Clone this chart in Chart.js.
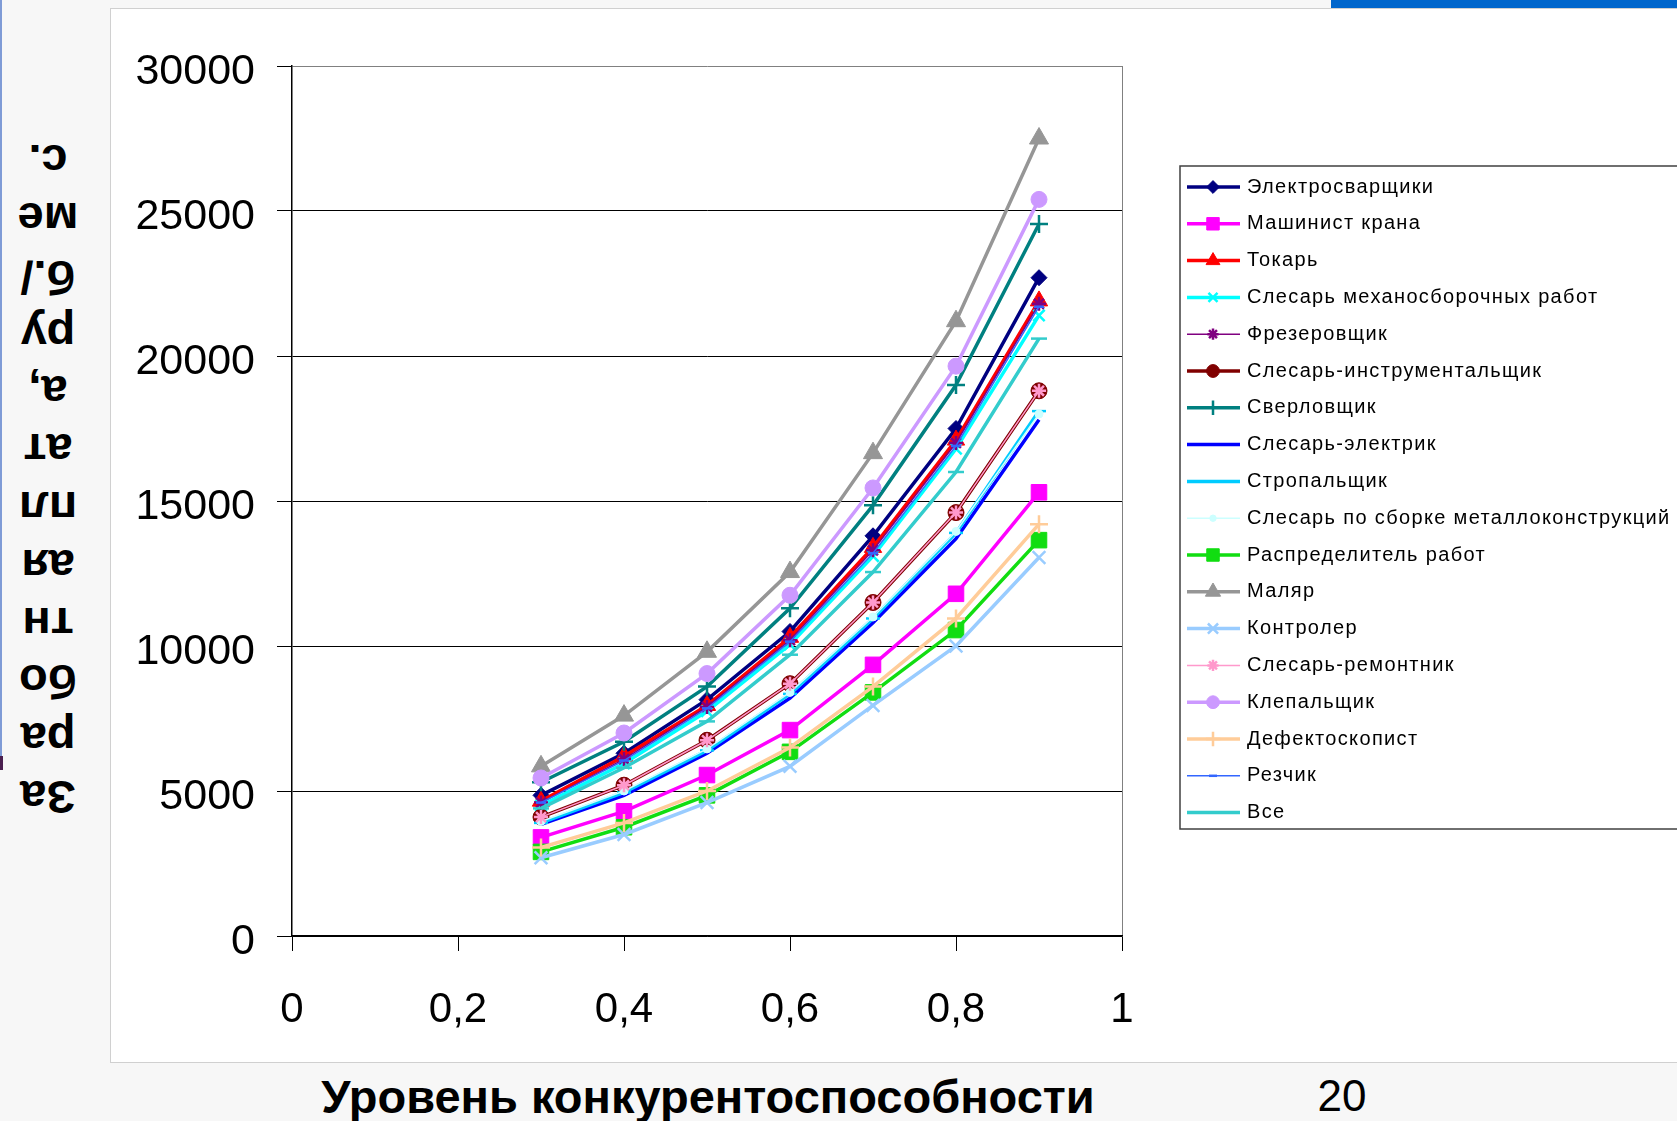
<!DOCTYPE html>
<html>
<head>
<meta charset="utf-8">
<script src="https://cdn.jsdelivr.net/npm/chart.js@4/dist/chart.umd.min.js"></script>
<style>
html, body { margin: 0; padding: 0; width: 1677px; height: 1121px; overflow: hidden; background: #f7f7f7; font-family: "Liberation Sans", Arial, sans-serif; }
#topbar { position: absolute; left: 1331px; top: 0; width: 346px; height: 8px; background: #0066cc; }
#leftline { position: absolute; left: 0; top: 0; width: 2px; height: 756px; background: #7f9bd6; }
#leftmark { position: absolute; left: 0; top: 756px; width: 3px; height: 14px; background: #4a1f4f; }
#box { position: absolute; left: 110px; top: 8px; width: 1600px; height: 1053px; background: #fff; border: 1px solid #d0d0d0; }
#chartWrap { position: absolute; left: 110px; top: 8px; width: 1567px; height: 1054px; }
#ytitle { position: absolute; left: 3px; top: 132px; width: 90px; text-align: center; font-weight: bold; font-size: 47px; line-height: 57.8px; transform: rotate(180deg); color: #000; }
#xtitle { position: absolute; left: 0; top: 1069px; width: 1416px; text-align: center; font-weight: bold; font-size: 47px; color: #000; }
#page { position: absolute; left: 1292px; top: 1071px; width: 100px; text-align: center; font-size: 44px; color: #000; }
</style>
</head>
<body>
<div id="topbar"></div>
<div id="leftline"></div>
<div id="leftmark"></div>
<div id="box"></div>
<div id="chartWrap"><canvas id="chart" width="1567" height="1054"></canvas></div>
<div id="ytitle">За<br>ра<br>бо<br>тн<br>ая<br>пл<br>ат<br>а,<br>ру<br>б./<br>ме<br>с.</div>
<div id="xtitle">Уровень конкурентоспособности</div>
<div id="page">20</div>

<script>
// competitiveness levels (x)
const levels = [0.3, 0.4, 0.5, 0.6, 0.7, 0.8, 0.9];

const seriesNames = [
    'Электросварщики', 'Машинист крана', 'Токарь', 'Слесарь механосборочных работ',
    'Фрезеровщик', 'Слесарь-инструментальщик', 'Сверловщик', 'Слесарь-электрик',
    'Стропальщик', 'Слесарь по сборке металлоконструкций', 'Распределитель работ', 'Маляр',
    'Контролер', 'Слесарь-ремонтник', 'Клепальщик', 'Дефектоскопист', 'Резчик', 'Все'
];

// salary, rub./month
const elektrosvarshchiki = [4850, 6300, 8150, 10500, 13800, 17500, 22700];
const mashinistKrana     = [3400, 4300, 5550, 7100, 9350, 11800, 15300];
const tokar              = [4650, 6200, 7950, 10300, 13400, 17100, 21900];
const slesarMekhsbor     = [4500, 5950, 7750, 10050, 13100, 16800, 21400];
const frezerovshchik     = [4600, 6100, 7900, 10200, 13300, 17000, 21800];
const slesarInstrum      = [4100, 5200, 6750, 8700, 11500, 14600, 18800];
const sverlovshchik      = [5300, 6700, 8600, 11300, 14850, 19000, 24550];
const slesarElektrik     = [3850, 4850, 6300, 8200, 10800, 13700, 17800];
const stropalshchik      = [3900, 4950, 6400, 8350, 10950, 13900, 18100];
const slesarSborka       = [3950, 5000, 6450, 8400, 11000, 13950, 18000];
const raspredelitel      = [2900, 3750, 4850, 6350, 8400, 10550, 13650];
const malyar             = [5850, 7600, 9800, 12550, 16650, 21200, 27500];
const kontroler          = [2700, 3500, 4600, 5850, 7950, 10000, 13050];
const slesarRemont       = [4100, 5200, 6750, 8700, 11500, 14600, 18800];
const klepalshchik       = [5450, 7000, 9050, 11750, 15450, 19650, 25400];
const defektoskopist     = [3050, 3900, 5000, 6500, 8600, 10950, 14200];
const rezchik            = [4600, 6050, 7850, 10150, 13200, 16900, 21700];
const vse                = [4400, 5800, 7400, 9700, 12550, 16000, 20600];

const seriesValues = [
    elektrosvarshchiki, mashinistKrana, tokar, slesarMekhsbor, frezerovshchik, slesarInstrum,
    sverlovshchik, slesarElektrik, stropalshchik, slesarSborka, raspredelitel, malyar,
    kontroler, slesarRemont, klepalshchik, defektoskopist, rezchik, vse
];

// [color, line width, marker, marker radius]
const seriesStyles = [
    ['#000080', 3.5, 'rectRot', 8],
    ['#ff00ff', 3.5, 'rect', 11],
    ['#ff0000', 3.5, 'triangle', 10],
    ['#00ffff', 3.5, 'crossRot', 8],
    ['#800080', 1.5, 'star', 7],
    ['#800000', 3.5, 'circle', 8],
    ['#008080', 3.5, 'cross', 9],
    ['#0000ff', 3.5, false, 0],
    ['#00ccff', 3.5, 'line', 7],
    ['#ccffff', 1.5, 'circle', 4],
    ['#11dd11', 3.5, 'rect', 11],
    ['#969696', 3.5, 'triangle', 11],
    ['#99ccff', 3.5, 'crossRot', 9],
    ['#ff99cc', 1.5, 'star', 7],
    ['#cc99ff', 3.5, 'circle', 8],
    ['#ffcc99', 3.5, 'cross', 9],
    ['#3366ff', 1.5, 'line', 5],
    ['#33cccc', 3.5, 'line', 8]
];

const fontFamily = '"Liberation Sans", Arial, sans-serif';
Chart.defaults.font.family = fontFamily;
Chart.defaults.color = '#000';

const datasets = seriesNames.map((name, i) => {
    const [color, width, marker, radius] = seriesStyles[i];
    const cross = marker === 'cross' || marker === 'crossRot' || marker === 'star' || marker === 'line';
    return {
        label: name,
        data: levels.map((x, k) => ({ x: x, y: seriesValues[i][k] })),
        borderColor: color,
        backgroundColor: color,
        borderWidth: width,
        pointStyle: marker,
        pointRadius: radius,
        pointBackgroundColor: color,
        pointBorderColor: color,
        pointBorderWidth: cross ? 2.5 : 1,
        fill: false,
        tension: 0,
        order: seriesNames.length - i
    };
});

// legend box on the right, line sample + marker + name
const sideLegend = {
    id: 'sideLegend',
    afterDraw(chart) {
        const ctx = chart.ctx;
        const boxLeft = 1070, boxTop = 158, boxBottom = 821;
        const firstRow = 179, rowStep = 36.8;
        ctx.save();
        ctx.strokeStyle = '#404040';
        ctx.lineWidth = 1.5;
        ctx.strokeRect(boxLeft, boxTop, 700, boxBottom - boxTop);
        chart.data.datasets.forEach((ds, i) => {
            const y = firstRow + i * rowStep;
            ctx.strokeStyle = ds.borderColor;
            ctx.lineWidth = ds.borderWidth;
            ctx.beginPath();
            ctx.moveTo(1077, y);
            ctx.lineTo(1130, y);
            ctx.stroke();
            if (ds.pointRadius > 0) {
                ctx.fillStyle = ds.pointBackgroundColor;
                ctx.strokeStyle = ds.pointBorderColor;
                ctx.lineWidth = ds.pointBorderWidth;
                Chart.helpers.drawPoint(ctx, {
                    pointStyle: ds.pointStyle,
                    radius: ds.pointRadius * 0.8,
                    rotation: 0,
                    borderWidth: ds.pointBorderWidth
                }, 1103, y);
            }
            ctx.fillStyle = '#000';
            ctx.font = '20px ' + fontFamily;
            ctx.letterSpacing = '1.35px';
            ctx.textBaseline = 'middle';
            ctx.textAlign = 'left';
            ctx.fillText(ds.label, 1137, y);
        });
        ctx.restore();
    }
};

new Chart(document.getElementById('chart').getContext('2d'), {
    type: 'line',
    data: { datasets: datasets },
    options: {
        responsive: false,
        animation: false,
        layout: { padding: { left: 0, top: 58, right: 555, bottom: 0 } },
        plugins: {
            legend: { display: false },
            tooltip: { enabled: false }
        },
        scales: {
            x: {
                type: 'linear',
                min: 0,
                max: 1,
                ticks: {
                    stepSize: 0.2,
                    autoSkip: false,
                    maxRotation: 0,
                    padding: 34,
                    color: '#000',
                    font: { size: 42 },
                    callback: v => String(Math.round(v * 10) / 10).replace('.', ',')
                },
                grid: {
                    color: c => (c.tick && c.tick.value === 1) ? '#808080' : 'rgba(0,0,0,0)',
                    tickColor: '#000',
                    tickLength: 15,
                    lineWidth: 1
                },
                border: { color: '#000', width: 1.5 },
                afterFit: scale => { scale.height = 126; }
            },
            y: {
                min: 0,
                max: 30000,
                ticks: {
                    stepSize: 5000,
                    padding: 22,
                    labelOffset: 6,
                    color: '#000',
                    font: { size: 43 },
                    callback: v => String(v)
                },
                grid: {
                    color: c => (c.tick && c.tick.value === 30000) ? '#808080' : '#000',
                    tickColor: '#000',
                    tickLength: 15,
                    lineWidth: 1
                },
                border: { color: '#000', width: 1.5 },
                afterFit: scale => { scale.width = 182; }
            }
        }
    },
    plugins: [sideLegend]
});
</script>
</body>
</html>
